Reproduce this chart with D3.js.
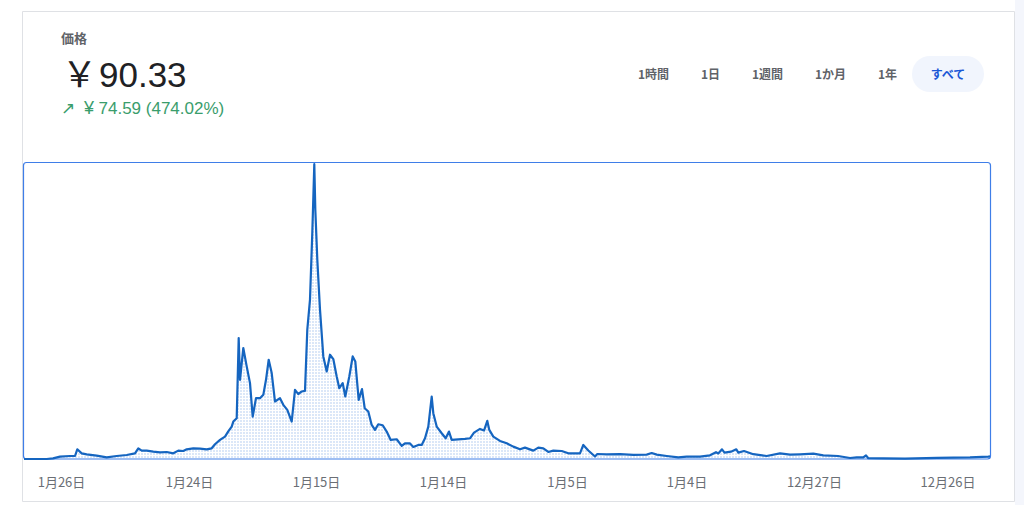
<!DOCTYPE html>
<html><head><meta charset="utf-8">
<script src="https://cdn.jsdelivr.net/npm/d3@7"></script>
<style>
html,body{margin:0;padding:0;background:#fff;}
svg{display:block;}
text{font-family:"Noto Sans CJK JP","Noto Sans",sans-serif;}
</style></head>
<body>
<svg id="chart" width="1024" height="505"></svg>
<script>
// ---- data ----
const ts = [0,22.7,29,36,46,51,53.3,57.7,62.7,72.7,
82.7,92.7,102.7,111,114.3,117.7,122.7,129.3,136,142.7,
149.3,154.3,159.3,162.7,169.3,176,182.7,187.7,191,196,
201,204.3,207.7,209.3,212.7,214.7,216,219.3,222.7,226,
228.7,232,236,239.3,242,244.7,247.7,251,256,259.3,
263.3,267.7,271,274.3,277.7,281,283.3,286,288.3,290.3,
291.3,293.3,296,299.3,302.7,306,309.3,312.7,315.3,318.7,
321.3,325.3,328.7,331.3,334.7,338,340.7,344.3,347.7,351,
354.3,358.7,362.7,366.7,372.7,377.7,381,386,389.3,394.3,
397.7,401,404.3,407.7,409.3,412.7,417.7,421.7,425,427.7,
434.3,441,446,450,456,460,463.3,465.3,469.3,476,
482.7,489.3,496,501,509.3,514.3,519.3,524.3,529.3,537.7,
544.3,556,559.3,564.3,571,573.3,582.7,596,609.3,622.7,
627.7,632.7,642.7,654.3,662.7,676,686,692,694.3,698,
700.5,707,712.3,714.3,720,729.3,742.7,756,766,776,
789.3,799.3,814,826,832.7,839.3,842,844.3,859.3,881,
913,946,964.3,966];
const prices = [12,12,13,15.5,16.5,16.5,26.5,20.5,19,17,
14.5,16.5,18,20.5,28,24.5,24.5,23,22,22.5,
20.5,24.5,24,26.5,28,27.5,26.3,28,34,40.5,
45.5,53.3,60.5,68,73,193,130.5,178,150.5,125.5,
75.5,103,103,108,130.5,160.5,140.5,98,103,93,
85.5,68,115.5,109,113,114,205.5,250.5,350.5,453,
385.5,310.5,235.5,165.5,143,168,161.5,135.5,118,125.5,
105.5,135.5,165.5,158,100.5,116.5,88,83,63,55.5,
64,62.5,53,40.5,41.5,31.5,35.5,35.3,30,33,
33,43,60.5,105.5,80.5,60.5,50.5,43,53,40.5,
41.5,42,43,51.5,57,54.5,69,55.5,45.5,39,
35.5,30.5,26.5,29,24.5,29,28,22.5,24.5,24,
20.5,20.5,33,24.8,15.8,19.5,18.8,19.2,18.3,18.5,
21,18.5,16.5,14.3,15.5,15.5,17.5,22.2,20.3,26.5,
21.5,23,26.5,21.5,24,19.2,16.5,20.5,18.5,19,
20,17.5,16.5,13.5,14.5,14.5,17.5,13.2,12.8,12.5,
13.7,14.4,15.5,15.8];
const tickTimes = [37,165,292,419,543,662.5,790,923.5];
const tickLabels = ["1月26日","1月24日","1月15日","1月14日","1月5日","1月4日","12月27日","12月26日"];
const rangeButtons = ["1時間","1日","1週間","1か月","1年","すべて"];
const titleLabel = "価格";
const currencySign = "￥";
const priceValue = "90.33";
const changeArrow = "↗";
const changeSign = "¥";
const changeValue = "74.59 (474.02%)";

// ---- layout ----
const svg = d3.select("#chart");
const frame = {x0:23.5, x1:990.5, y0:162.5, y1:459};

// page background / card
svg.append("rect").attr("x",1015).attr("y",0).attr("width",9).attr("height",505).attr("fill","#f4f6fc");
const border = "#dfe1e5";
svg.append("line").attr("x1",22.5).attr("x2",1014.5).attr("y1",11.5).attr("y2",11.5).attr("stroke",border);
svg.append("line").attr("x1",22.5).attr("x2",1014.5).attr("y1",501.5).attr("y2",501.5).attr("stroke",border);
svg.append("line").attr("x1",22.5).attr("x2",22.5).attr("y1",11.5).attr("y2",501.5).attr("stroke",border);
svg.append("line").attr("x1",1014.5).attr("x2",1014.5).attr("y1",11.5).attr("y2",501.5).attr("stroke",border);

// header
const green = "#3a9d6c";
svg.append("text").attr("x",61).attr("y",42.5).attr("font-size",13).attr("font-weight",700).attr("fill","#5f6368").text(titleLabel);
svg.append("text").attr("x",62).attr("y",87).attr("font-size",35).attr("fill","#202124").text(currencySign);
svg.append("text").attr("x",99).attr("y",87).attr("font-size",35).attr("fill","#202124")
  .style("font-family","'Liberation Sans',Arial,sans-serif").text(priceValue);
svg.append("text").attr("x",61).attr("y",114).attr("font-size",17).attr("fill",green)
  .style("font-family","'DejaVu Sans',sans-serif").text(changeArrow);
svg.append("text").attr("x",84).attr("y",114).attr("font-size",18).attr("fill",green)
  .style("font-family","'Liberation Sans',Arial,sans-serif").text(changeSign);
svg.append("text").attr("x",98.5).attr("y",114).attr("font-size",17).attr("fill",green)
  .style("font-family","'Liberation Sans',Arial,sans-serif").text(changeValue);

// range buttons
const btnCenters = [653.5,710.5,767.5,830.5,887.5,948];
svg.append("rect").attr("x",912).attr("y",56).attr("width",72).attr("height",36).attr("rx",18).attr("fill","#f1f5fd");
rangeButtons.forEach((b,i)=>{
  svg.append("text").attr("x",btnCenters[i]).attr("y",79).attr("text-anchor","middle")
    .attr("font-size",12).attr("font-weight",700)
    .attr("fill", i===rangeButtons.length-1 ? "#1a57d6" : "#5f6368").text(b);
});

// scales
const x = d3.scaleLinear().domain([0, d3.max(ts)]).range([24, 990]);
const pMin = d3.min(prices), pMax = d3.max(prices);
const y = d3.scaleLinear().domain([pMin, pMax + (pMax-pMin)*0.0065]).range([459, 162.3]);
const data = ts.map((t,i)=>({t, p:prices[i]}));

// pattern
const defs = svg.append("defs");
const pat = defs.append("pattern").attr("id","dots").attr("patternUnits","userSpaceOnUse").attr("width",3).attr("height",3);
pat.append("rect").attr("width",3).attr("height",3).attr("fill","#ffffff");
pat.append("rect").attr("width",2).attr("height",2).attr("fill","#dbe7f8");

const area = d3.area().x(d=>x(d.t)).y0(459).y1(d=>y(d.p));
svg.append("path").datum(data).attr("d",area).attr("fill","url(#dots)");

// frame
svg.append("rect").attr("x",frame.x0).attr("y",frame.y0).attr("width",frame.x1-frame.x0).attr("height",frame.y1-frame.y0)
  .attr("rx",3).attr("fill","none").attr("stroke","#3f7ee8").attr("stroke-width",1.2);

const line = d3.line().x(d=>x(d.t)).y(d=>y(d.p));
svg.append("path").datum(data).attr("d",line).attr("fill","none").attr("stroke","#1565c0").attr("stroke-width",2.2).attr("stroke-linejoin","round");

// x axis
const ax = svg.append("g").attr("transform","translate(0,474)")
  .call(d3.axisBottom(x).tickValues(tickTimes).tickFormat((d,i)=>tickLabels[i]).tickSize(0).tickPadding(4));
ax.select(".domain").remove();
ax.selectAll("text").attr("font-size",13).attr("fill","#6b6f75").attr("font-family","'Noto Sans CJK JP',sans-serif");
</script>
</body></html>
